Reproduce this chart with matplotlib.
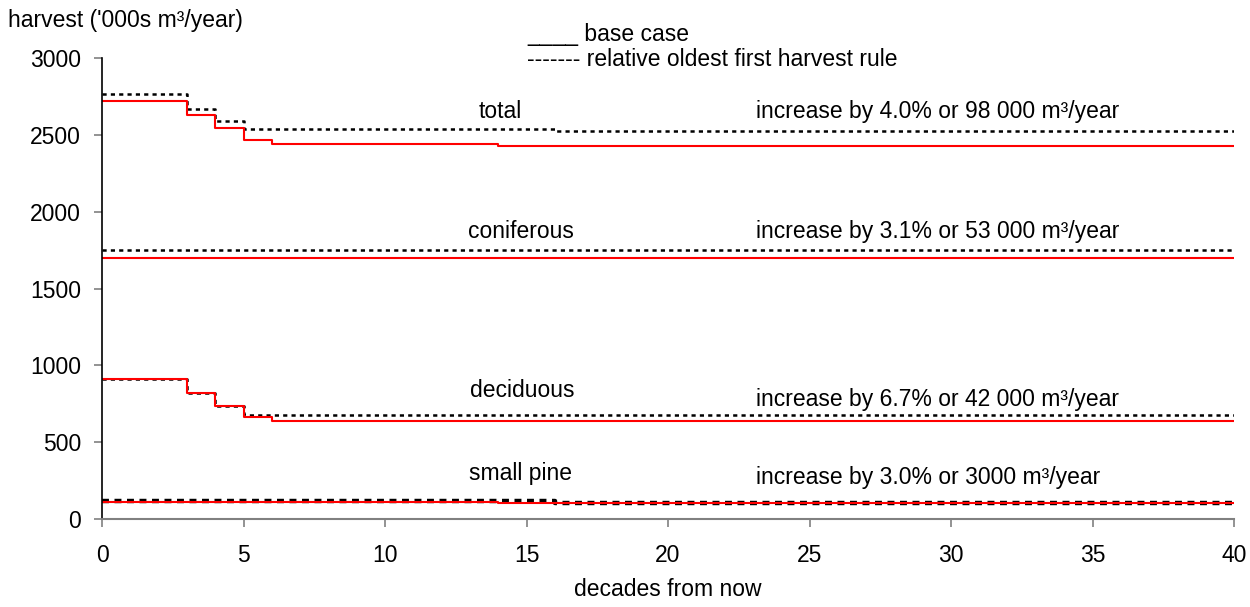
import matplotlib
matplotlib.use("Agg")
import matplotlib.pyplot as plt

plt.rcParams["font.family"] = ["Liberation Sans", "DejaVu Sans"]
plt.rcParams["lines.scale_dashes"] = False

# Harvest level per species group, as step functions over decades
total_base_x = [0, 3, 4, 5, 6, 14, 40]
total_base_y = [2720, 2630, 2545, 2465, 2440, 2427, 2427]
total_rule_x = [0, 3, 4, 5, 16, 40]
total_rule_y = [2766, 2668, 2590, 2535, 2523, 2523]

conif_base_x = [0, 40]
conif_base_y = [1700, 1700]
conif_rule_x = [0, 40]
conif_rule_y = [1750, 1750]

decid_base_x = [0, 3, 4, 5, 6, 40]
decid_base_y = [910, 820, 738, 665, 635, 635]
decid_rule_x = [0, 3, 4, 5, 40]
decid_rule_y = [910, 820, 738, 675, 675]

pine_base_x = [0, 14, 40]
pine_base_y = [113, 103, 103]
pine_rule_x = [0, 16, 40]
pine_rule_y = [114, 106, 106]

group_labels = ["total", "coniferous", "deciduous", "small pine"]
group_label_pos = [(14.06, 2650), (14.8, 1870), (14.84, 835), (14.8, 295)]
increase_labels = [
    "increase by 4.0% or 98 000 m\u00b3/year",
    "increase by 3.1% or 53 000 m\u00b3/year",
    "increase by 6.7% or 42 000 m\u00b3/year",
    "increase by 3.0% or 3000 m\u00b3/year",
]
increase_label_y = [2650, 1870, 775, 268]

x_ticks = [0, 5, 10, 15, 20, 25, 30, 35, 40]
y_ticks = [0, 500, 1000, 1500, 2000, 2500, 3000]

fig = plt.figure(figsize=(12.5, 6.07), dpi=100)
ax = fig.add_axes([0.0816, 0.145, 0.9056, 0.7594])

FS = 16.5
red_kw = dict(where="post", color="#ff0000", lw=1.5, solid_capstyle="butt")
blk_kw = dict(where="post", color="black", lw=1.8, dashes=(3, 3))

for xs, ys in [(total_rule_x, total_rule_y), (conif_rule_x, conif_rule_y),
               (decid_rule_x, decid_rule_y)]:
    ax.step(xs, ys, **blk_kw)
ax.step(pine_rule_x, pine_rule_y, where="post", color="black", lw=3.2, dashes=(5, 4))

for xs, ys in [(total_base_x, total_base_y), (conif_base_x, conif_base_y),
               (decid_base_x, decid_base_y), (pine_base_x, pine_base_y)]:
    ax.step(xs, ys, **red_kw)

for lab, (lx, ly) in zip(group_labels, group_label_pos):
    ax.text(lx, ly, lab, ha="center", va="center", fontsize=FS)
for lab, ly in zip(increase_labels, increase_label_y):
    ax.text(23.1, ly, lab, ha="left", va="center", fontsize=FS)

ax.set_xlim(0, 40)
ax.set_ylim(0, 3000)
ax.set_xticks(x_ticks)
ax.set_yticks(y_ticks)
ax.tick_params(axis="both", labelsize=FS, direction="out", length=6, width=1.2,
               color="#808080")
ax.tick_params(axis="x", pad=12)
ax.tick_params(axis="y", pad=9)
for side in ["top", "right"]:
    ax.spines[side].set_visible(False)
ax.spines["left"].set_color("black")
ax.spines["left"].set_linewidth(1.2)
ax.spines["bottom"].set_color("#808080")
ax.spines["bottom"].set_linewidth(1.5)

fig.text(8 / 1250, 1 - 21 / 607, "harvest ('000s m\u00b3/year)", fontsize=FS,
         ha="left", va="center")
fig.text(668 / 1250, 1 - 590 / 607, "decades from now", fontsize=FS,
         ha="center", va="center")
fig.text(527 / 1250, 1 - 34 / 607, "____ base case", fontsize=FS,
         ha="left", va="center")
fig.text(527 / 1250, 1 - 59 / 607, "------- relative oldest first harvest rule",
         fontsize=FS, ha="left", va="center")

fig.savefig("out.png", dpi=100)
